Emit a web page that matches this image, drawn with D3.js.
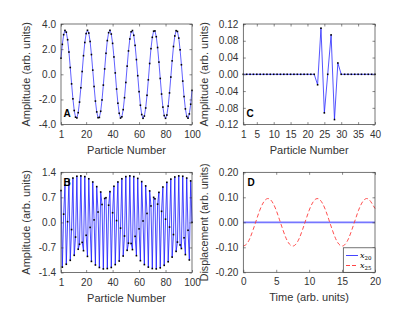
<!DOCTYPE html>
<html><head><meta charset="utf-8">
<script src="https://cdn.jsdelivr.net/npm/d3@7"></script>
<style>
body{margin:0;background:#fff;}
svg{display:block;font-family:"Liberation Sans",Arial,sans-serif;}
</style></head><body>
<svg id="c" width="415" height="312"></svg>
<script>
// ---------- data ----------
const ampA = [1.28,2.38,3.15,3.49,3.35,2.75,1.77,0.54,-0.76,-1.95,-2.88,-3.41,-3.47,-3.05,-2.21,-1.07,0.22,1.48,2.53,3.24,
3.50,3.28,2.61,1.57,0.33,-0.97,-2.13,-2.99,-3.45,-3.43,-2.94,-2.04,-0.86,0.43,1.67,2.68,3.31,3.50,3.20,2.46,
1.38,0.11,-1.17,-2.30,-3.10,-3.48,-3.38,-2.81,-1.86,-0.65,0.65,1.86,2.81,3.38,3.48,3.10,2.30,1.17,-0.11,-1.38,
-2.46,-3.20,-3.50,-3.32,-2.68,-1.67,-0.44,0.86,2.04,2.94,3.43,3.45,2.99,2.13,0.97,-0.33,-1.57,-2.61,-3.28,-3.50,
-3.24,-2.53,-1.48,-0.22,1.07,2.21,3.05,3.47,3.41,2.88,1.95,0.76,-0.54,-1.77,-2.75,-3.35,-3.49,-3.15,-2.38,-1.28];
const ampB = [0.89,-1.25,0.23,1.04,-1.17,0.02,1.15,-1.06,-0.20,1.24,-0.92,-0.41,1.29,-0.75,-0.61,1.30,-0.56,-0.79,1.28,-0.36,
-0.95,1.22,-0.14,-1.09,1.13,0.07,-1.19,1.00,0.29,-1.26,0.85,0.50,-1.30,0.67,0.69,-1.29,0.48,0.86,-1.26,0.27,
1.01,-1.18,0.05,1.13,-1.08,-0.16,1.22,-0.94,-0.38,1.28,-0.78,-0.58,1.30,-0.59,-0.76,1.28,-0.39,-0.93,1.23,-0.18,
-1.07,1.14,0.04,-1.18,1.02,0.25,-1.25,0.88,0.46,-1.29,0.70,0.66,-1.30,0.51,0.84,-1.27,0.31,0.99,-1.20,0.09,
1.12,-1.10,-0.13,1.21,-0.97,-0.34,1.27,-0.81,-0.55,1.30,-0.63,-0.73,1.29,-0.43,-0.90,1.24,-0.22,-1.05,1.16,0.00];
const ampC = [0,0,0,0,0,0,0,0,0,0,0,0,0,0,0,0,0,0,0,0,
0,0,-0.025,0.110,-0.092,0.000,0.094,-0.108,0.027,0,0,0,0,0,0,0,0,0,0,0];
const timeD = [0,0.5,1,1.5,2,2.5,3,3.5,4,4.5,5,5.5,6,6.5,7,7.5,8,8.5,9,9.5,10,
10.5,11,11.5,12,12.5,13,13.5,14,14.5,15,15.5,16,16.5,17,17.5,18,18.5,19,19.5,20];
const x20 = [0,0,0,0,0,0,0,0,0,0,0,0,0,0,0,0,0,0,0,0,0,0,0,0,0,0,0,0,0,0,0,0,0,0,0,0,0,0,0,0,0];
const x25 = [-0.095,-0.087,-0.064,-0.029,0.010,0.048,0.077,0.093,0.093,0.077,0.048,0.010,-0.029,-0.064,-0.087,
-0.095,-0.087,-0.064,-0.029,0.010,0.048,0.077,0.093,0.093,0.077,0.048,0.010,-0.029,-0.064,-0.087,
-0.095,-0.087,-0.064,-0.029,0.010,0.048,0.077,0.093,0.093,0.077,0.055];
const ticksParticle100 = [1,20,40,60,80,100];
const ticksParticle40 = [1,5,10,15,20,25,30,35,40];
const ticksTime = [0,5,10,15,20];
const ticksA = [-4,-2,0,2,4];
const ticksB = [-1.4,-0.7,0,0.7,1.4];
const ticksC = [-0.12,-0.08,-0.04,0,0.04,0.08,0.12];
const ticksD = [-0.2,-0.1,0,0.1,0.2];

// ---------- drawing ----------
const svg = d3.select("#c");
const TXT = "#333";
const AX = "#3a3a3a";

function panel(o){
  const x = d3.scaleLinear().domain(o.xd).range([o.l,o.r]);
  const y = d3.scaleLinear().domain(o.yd).range([o.b,o.t]);
  const g = svg.append("g");
  const plot = g.append("g");
  o.draw(plot,x,y);
  const ax = d3.axisBottom(x).tickValues(o.xt).tickFormat(o.xf).tickSizeInner(-2.5).tickSizeOuter(0).tickPadding(6);
  const axT = d3.axisTop(x).tickValues(o.xt).tickFormat("").tickSizeInner(-2.5).tickSizeOuter(0);
  const ay = d3.axisLeft(y).tickValues(o.yt).tickFormat(o.yf).tickSizeInner(-2.5).tickSizeOuter(0).tickPadding(5);
  const ayR = d3.axisRight(y).tickValues(o.yt).tickFormat("").tickSizeInner(-2.5).tickSizeOuter(0);
  g.append("g").attr("transform",`translate(0,${o.b})`).call(ax);
  g.append("g").attr("transform",`translate(0,${o.t})`).call(axT);
  g.append("g").attr("transform",`translate(${o.l},0)`).call(ay);
  g.append("g").attr("transform",`translate(${o.r},0)`).call(ayR);
  g.selectAll(".domain").remove();
  g.selectAll(".tick line").attr("stroke",AX).attr("stroke-width",0.6);
  g.selectAll(".tick text").attr("fill",TXT).style("font-size","10px").style("font-family","Liberation Sans, Arial, sans-serif");
  g.append("rect").attr("x",o.l).attr("y",o.t).attr("width",o.r-o.l).attr("height",o.b-o.t)
    .attr("fill","none").attr("stroke",AX).attr("stroke-width",0.7);
  g.append("text").attr("x",(o.l+o.r)/2).attr("y",o.b+29).attr("text-anchor","middle")
    .attr("fill",TXT).style("font-size","11px").text(o.xl);
  g.append("text").attr("transform",`translate(${o.yx},${(o.t+o.b)/2}) rotate(-90)`)
    .attr("text-anchor","middle").attr("fill",TXT).style("font-size",o.yfs||"11px").text(o.yl);
  g.append("text").attr("x",o.lab[0]).attr("y",o.lab[1]).attr("fill","#000")
    .style("font-size","10px").style("font-weight","bold").text(o.letter);
  return {x,y,g};
}

function seriesWithDots(vals, color){
  return (plot,x,y)=>{
    const pts = vals.map((v,i)=>[i+1,v]);
    plot.append("path").datum(pts)
      .attr("d",d3.line().x(d=>x(d[0])).y(d=>y(d[1])))
      .attr("fill","none").attr("stroke",color).attr("stroke-width",0.8);
    plot.selectAll("rect.dot").data(pts).enter().append("rect")
      .attr("x",d=>x(d[0])-0.8).attr("y",d=>y(d[1])-0.8)
      .attr("width",1.6).attr("height",1.6).attr("fill","#000");
  };
}

const f1 = d3.format(".1f"), f2 = d3.format(".2f");
const fm = f => (v => f(v).replace("−","-"));

panel({l:61,r:192,t:24,b:124.6,xd:[1,100],yd:[-4,4],xt:ticksParticle100,yt:ticksA,
  xf:d3.format("d"),yf:fm(f1),xl:"Particle Number",yl:"Amplitude (arb. units)",yx:30,
  letter:"A",lab:[63.5,117],draw:seriesWithDots(ampA,"#3a3aff")});
panel({l:243.3,r:375,t:24,b:124.6,xd:[1,40],yd:[-0.12,0.12],xt:ticksParticle40,yt:ticksC,
  xf:d3.format("d"),yf:fm(f2),xl:"Particle Number",yl:"Amplitude (arb. units)",yx:208,
  letter:"C",lab:[246.5,117],draw:seriesWithDots(ampC,"#2a2aff")});
panel({l:61,r:192,t:172.3,b:272.5,xd:[1,100],yd:[-1.4,1.4],xt:ticksParticle100,yt:ticksB,
  xf:d3.format("d"),yf:fm(f1),xl:"Particle Number",yl:"Amplitude (arb. units)",yx:30,
  letter:"B",lab:[63.5,186],draw:seriesWithDots(ampB,"#1a1aff")});
const pD = panel({l:243.3,r:375,t:172.3,b:272.3,xd:[0,20],yd:[-0.2,0.2],xt:ticksTime,yt:ticksD,
  xf:d3.format("d"),yf:fm(f2),xl:"Time (arb. units)",yl:"Displacement (arb. units)",yx:208,yfs:"10.6px",
  letter:"D",lab:[247.5,186],draw:(plot,x,y)=>{
    plot.append("path").datum(timeD.map((t,i)=>[t,x20[i]]))
      .attr("d",d3.line().x(d=>x(d[0])).y(d=>y(d[1])))
      .attr("fill","none").attr("stroke","#7676ff").attr("stroke-width",1.8);
    plot.append("path").datum(timeD.map((t,i)=>[t,x25[i]]))
      .attr("d",d3.line().curve(d3.curveNatural).x(d=>x(d[0])).y(d=>y(d[1])))
      .attr("fill","none").attr("stroke","#ff3b3b").attr("stroke-width",0.9).attr("stroke-dasharray","4,2.5");
  }});
// legend D
const lg = pD.g.append("g");
lg.append("rect").attr("x",343.3).attr("y",247.8).attr("width",31.7).attr("height",24.5)
  .attr("fill","#fff").attr("stroke",AX).attr("stroke-width",0.7);
lg.append("line").attr("x1",346).attr("x2",358).attr("y1",255.5).attr("y2",255.5).attr("stroke","#3030ff").attr("stroke-width",0.9);
lg.append("line").attr("x1",346).attr("x2",358).attr("y1",265.5).attr("y2",265.5).attr("stroke","#ff3030").attr("stroke-width",0.9).attr("stroke-dasharray","4,2");
const legendNames = [["x","20"],["x","25"]];
legendNames.forEach((n,i)=>{
  const t = lg.append("text").attr("x",360).attr("y",258+i*10).attr("fill","#000")
    .style("font-family","DejaVu Serif, Liberation Serif, serif").style("font-size","8px");
  t.append("tspan").style("font-style","italic").text(n[0]);
  t.append("tspan").attr("dy",1.5).style("font-size","5.5px").text(n[1]);
});
</script></body></html>
